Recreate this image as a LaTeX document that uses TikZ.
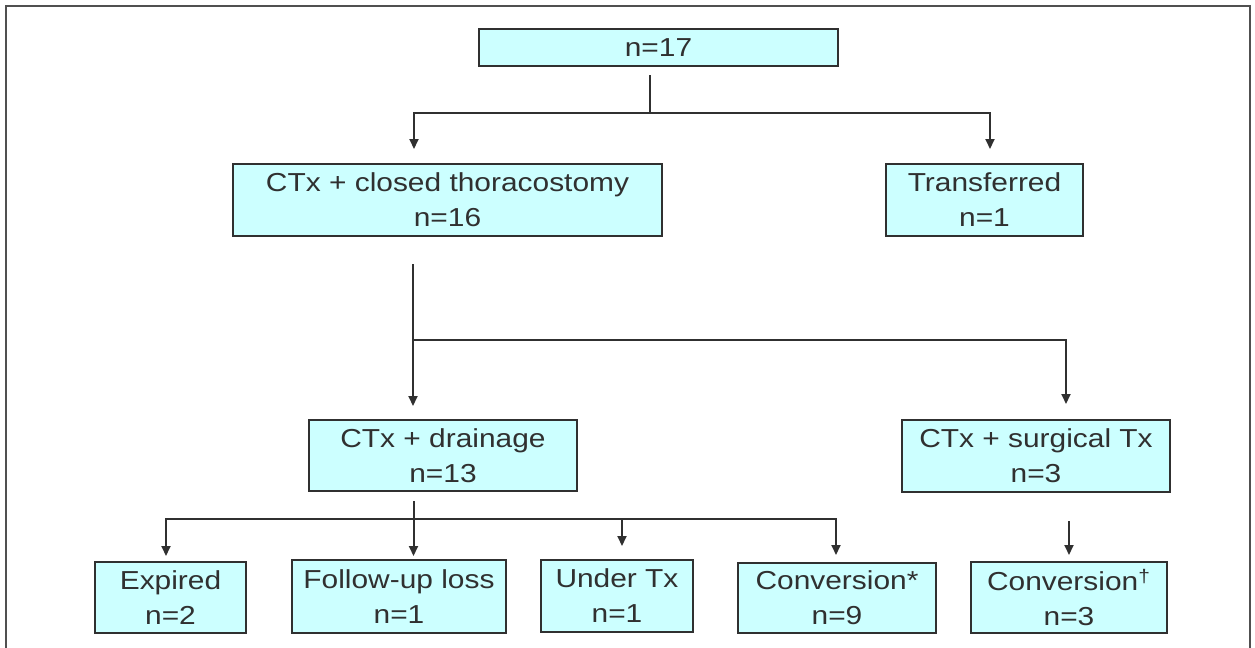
\documentclass[tikz,border=0pt]{standalone}
\usepackage{fontspec}
\setmainfont{Liberation Sans}[FakeStretch=1.15]
\usetikzlibrary{arrows.meta,calc}
\definecolor{boxfill}{HTML}{CCFFFF}
\definecolor{ink}{HTML}{303030}
\definecolor{framec}{HTML}{505050}
\begin{document}
\begin{tikzpicture}[x=0.5pt,y=-0.5pt,
  box/.style={draw=ink,line width=1pt,fill=boxfill,inner sep=0pt,align=center,
    font=\fontsize{13}{17.5}\selectfont,text=ink},
  conn/.style={draw=ink,line width=1pt},
  arr/.style={conn,-{Triangle[length=5pt,width=4.5pt]}}]
\useasboundingbox (0,0) rectangle (1255,648);
\draw[framec,line width=1pt] (6,652) -- (6,6) -- (1250,6) -- (1250,652);

% boxes
\node[box,minimum width=179.5pt,minimum height=18.5pt] (top) at (658.5,47.5) {n=17};
\node[box,minimum width=214.5pt,minimum height=36pt] (closed) at (447.5,200) {CTx + closed thoracostomy\\n=16};
\node[box,minimum width=98.5pt,minimum height=36pt] (transf) at (984.5,200) {Transferred\\n=1};
\node[box,minimum width=134pt,minimum height=35.5pt] (drain) at (443,455.5) {CTx + drainage\\n=13};
\node[box,minimum width=134pt,minimum height=36pt] (surg) at (1036,456) {CTx + surgical Tx\\n=3};
\node[box,minimum width=75.5pt,minimum height=35.5pt] (expired) at (170.5,597.5) {Expired\\n=2};
\node[box,minimum width=107pt,minimum height=36.5pt] (follow) at (399,596.5) {Follow-up loss\\n=1};
\node[box,minimum width=76pt,minimum height=36pt] (under) at (617,596) {Under Tx\\n=1};
\node[box,minimum width=99pt,minimum height=35pt] (conv9) at (837,598) {Conversion*\\n=9};
\node[box,minimum width=98pt,minimum height=35.5pt] (conv3) at (1069,597.5) {Conversion\textsuperscript{†}\\n=3};

% level 1
\coordinate (j1) at (650,113);
\coordinate (k1) at (414,113);
\coordinate (k2) at (990,113);
\draw[conn,shorten <=4pt] (top.south -| j1) -- (j1);
\draw[arr,shorten >=7pt] (j1) -- (k1) -- (k1 |- closed.north);
\draw[arr,shorten >=7pt] (j1) -- (k2) -- (k2 |- transf.north);

% level 2
\coordinate (j2) at (413,340);
\coordinate (k3) at (1066,340);
\draw[arr,shorten <=13.5pt,shorten >=6.5pt] (closed.south -| j2) -- (drain.north -| j2);
\draw[arr,shorten >=7.5pt] (j2) -- (k3) -- (k3 |- surg.north);

% level 3
\coordinate (j3) at (413.5,519);
\coordinate (k4) at (166,519);
\coordinate (k5) at (622,519);
\coordinate (k6) at (836,519);
\draw[arr,shorten <=4.5pt,shorten >=1.5pt] (drain.south -| j3) -- (follow.north -| j3);
\draw[arr,shorten >=2.5pt] (j3) -- (k4) -- (k4 |- expired.north);
\draw[arr,shorten >=6.5pt] (k5) -- (k5 |- under.north);
\draw[arr,shorten >=3.5pt] (j3) -- (k6) -- (k6 |- conv9.north);
\draw[arr,shorten <=14pt,shorten >=3pt] (surg.south -| conv3.north) -- (conv3.north);
\end{tikzpicture}
\end{document}
